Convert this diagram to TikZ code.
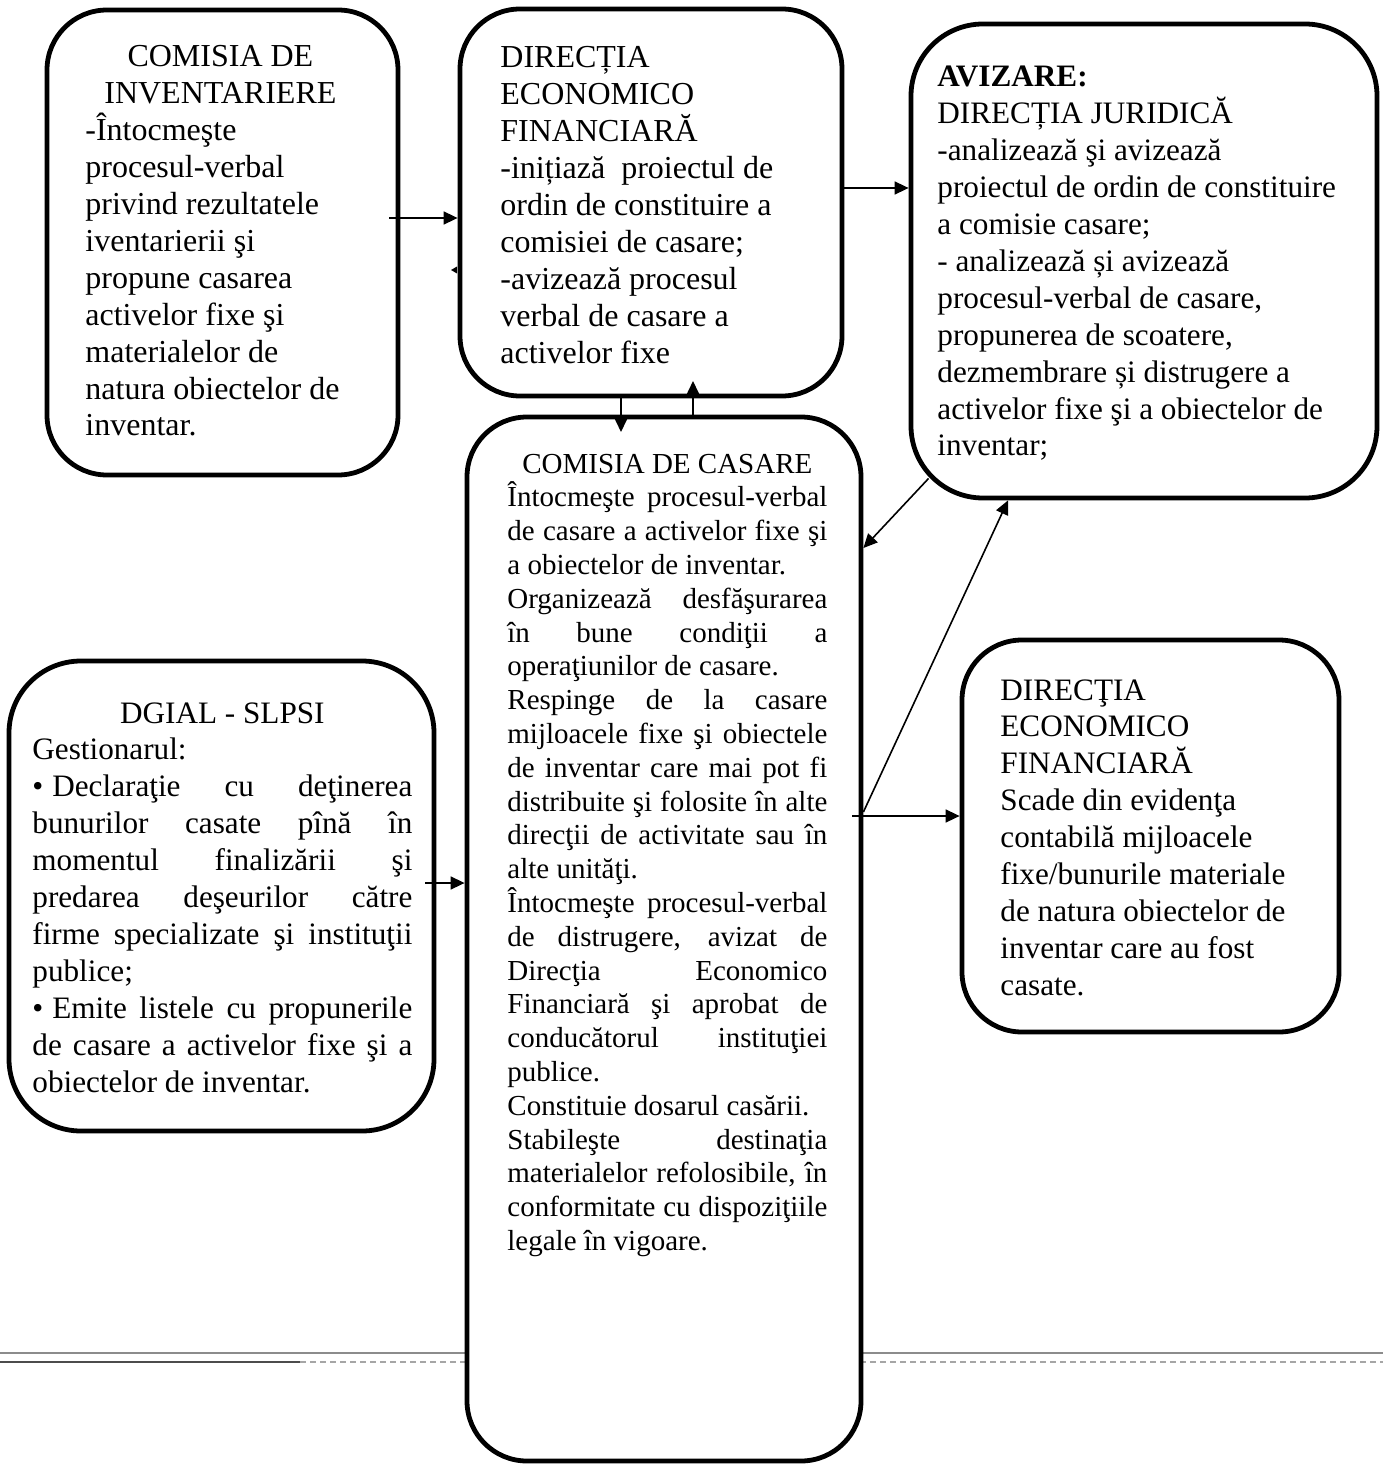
\documentclass[tikz,border=0pt]{standalone}
\usepackage{fontspec}
\setmainfont{Liberation Serif}
\usetikzlibrary{arrows.meta,fit,calc}
\newcommand{\hdrline}[2]{\makebox[#1][c]{#2}}
\newcommand{\JB}[1]{\makebox[160pt][s]{\spaceskip=0pt\relax\xspaceskip=0pt\relax #1}}
\newcommand{\JD}[1]{\makebox[190pt][s]{\spaceskip=0pt\relax\xspaceskip=0pt\relax #1}}
\newcommand{\JDb}[1]{\makebox[180pt][s]{\spaceskip=0pt\relax\xspaceskip=0pt\relax #1}}
\begin{document}
\begin{tikzpicture}[x=0.5pt,y=-0.5pt,
  box/.style={draw, line width=2.4pt, rounded corners=30pt, fill=white, inner sep=0pt},
  txt/.style={anchor=base west, inner sep=0pt, text width=300pt, align=flush left,
              font=\fontsize{16}{18.45}\selectfont},
  midtxt/.style={font=\fontsize{15.6}{18.45}\selectfont},
  smalltxt/.style={font=\fontsize{14.5}{16.9}\selectfont},
  arr/.style={line width=0.8pt, -{Triangle[length=7pt,width=6.5pt]}},
  rulegray/.style={draw=black!45, line width=0.9pt}]
\useasboundingbox (0,0) rectangle (1383,1465);
% page rules at the bottom
\draw[rulegray] (0,1353) -- (1383,1353);
\draw[black!35, line width=0.6pt, dash pattern=on 3pt off 2pt] (0,1362) -- (1383,1362);
\draw[black!70, line width=0.7pt] (0,1362) -- (300,1362);
% boxes
\node[box, fit={(47,10) (398,475)}] (b1) {};
\node[box, fit={(460,9) (842,396)}] (b2) {};
\node[box, rounded corners=36pt, fit={(911,24) (1377,498)}] (b3) {};
\node[box, fit={(467,417) (861,1461)}] (b4) {};
\node[box, rounded corners=36pt, fit={(9,661) (434,1131)}] (b5) {};
\node[box, fit={(962,640) (1339,1032)}] (b6) {};
% texts
\node[txt] (t1) at (85,67) {\hdrline{135pt}{COMISIA DE}\\ \hdrline{135pt}{INVENTARIERE}\\ -Întocmeşte\\ procesul-verbal\\ privind rezultatele\\ iventarierii şi\\ propune casarea\\ activelor fixe şi\\ materialelor de\\ natura obiectelor de\\ inventar.};
\node[txt] (t2) at (500,68) {DIRECȚIA\\ ECONOMICO\\ FINANCIARĂ\\ -inițiază\ \ proiectul de\\ ordin de constituire a\\ comisiei de casare;\\ -avizează procesul\\ verbal de casare a\\ activelor fixe};
\node[txt, midtxt] (t3) at (937,87) {\textbf{AVIZARE:}\\ DIRECȚIA JURIDICĂ\\ -analizează şi avizează\\ proiectul de ordin de constituire\\ a comisie casare;\\ - analizează și avizează\\ procesul-verbal de casare,\\ propunerea de scoatere,\\ dezmembrare și distrugere a\\ activelor fixe şi a obiectelor de\\ inventar;};
\node[txt, smalltxt] (t4) at (507,473) {\hdrline{160pt}{COMISIA DE CASARE}\\ \JB{Întocmeşte procesul-verbal}\\ \JB{de casare a activelor fixe şi}\\ a obiectelor de inventar.\\ \JB{Organizează desfăşurarea}\\ \JB{în bune condiţii a}\\ operaţiunilor de casare.\\ \JB{Respinge de la casare}\\ \JB{mijloacele fixe şi obiectele}\\ \JB{de inventar care mai pot fi}\\ \JB{distribuite şi folosite în alte}\\ \JB{direcţii de activitate sau în}\\ alte unităţi.\\ \JB{Întocmeşte procesul-verbal}\\ \JB{de distrugere, avizat de}\\ \JB{Direcţia Economico}\\ \JB{Financiară şi aprobat de}\\ \JB{conducătorul instituţiei}\\ publice.\\ Constituie dosarul casării.\\ \JB{Stabileşte destinaţia}\\ \JB{materialelor refolosibile, în}\\ \JB{conformitate cu dispoziţiile}\\ legale în vigoare.};
\node[txt, midtxt] (t5) at (32,723) {\hdrline{190pt}{DGIAL - SLPSI}\\ Gestionarul:\\ \makebox[10pt][l]{•}\JDb{Declaraţie cu deţinerea}\\ \JD{bunurilor casate pînă în}\\ \JD{momentul finalizării şi}\\ \JD{predarea deşeurilor către}\\ \JD{firme specializate şi instituţii}\\ publice;\\ \makebox[10pt][l]{•}\JDb{Emite listele cu propunerile}\\ \JD{de casare a activelor fixe şi a}\\ obiectelor de inventar.};
\node[txt, midtxt] (t6) at (1000,700) {DIRECŢIA\\ ECONOMICO\\ FINANCIARĂ\\ Scade din evidenţa\\ contabilă mijloacele\\ fixe/bunurile materiale\\ de natura obiectelor de\\ inventar care au fost\\ casate.};
% helper coordinates
\coordinate (y218) at (0,218);
\coordinate (y188) at (0,188);
\coordinate (y548) at (0,548);
\coordinate (y812) at (0,812);
\coordinate (y816) at (0,816);
\coordinate (y883) at (0,883);
\coordinate (d621) at (621,432);
\coordinate (u693) at (693,381);
\coordinate (x1008) at (1008,0);
% connectors
\draw[arr] ($(b1.east |- y218)+(-11,0)$) -- (b2.west |- y218);
\fill (451,270) -- (457,266.5) -- (457,273.5) -- cycle;
\draw[arr] (b2.east |- y188) -- (b3.west |- y188);
\draw[arr] (b2.south -| d621) -- (d621);
\draw[arr] (b4.north -| u693) -- (u693);
\draw[arr] ($(b3.south west)+(20,-22)$) -- (b4.east |- y548);
\draw[arr] (b4.east |- y812) -- (b3.south -| x1008);
\draw[arr] ($(b4.east |- y816)+(-11,0)$) -- (b6.west |- y816);
\draw[arr] ($(b5.east |- y883)+(-11,0)$) -- (b4.west |- y883);
\end{tikzpicture}
\end{document}
